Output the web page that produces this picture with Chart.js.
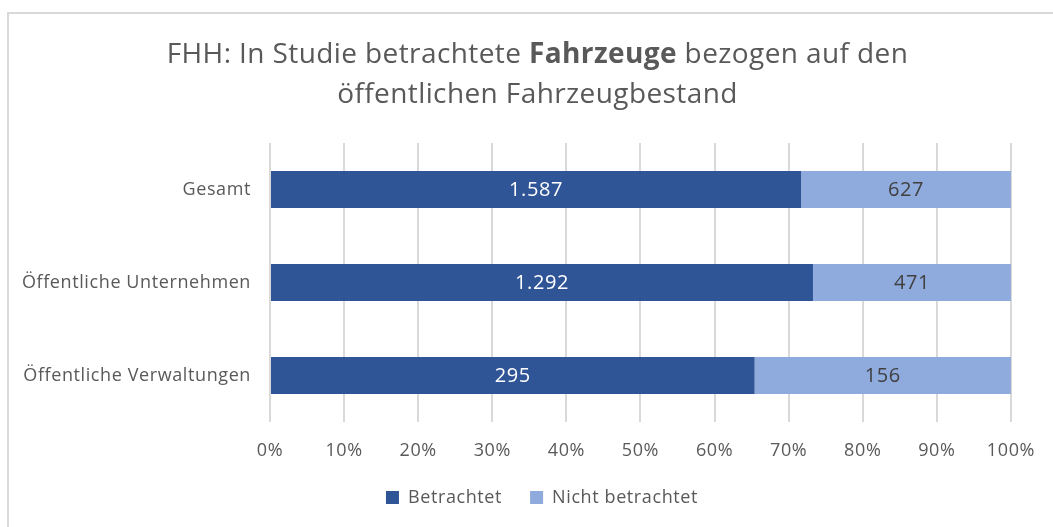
<!DOCTYPE html>
<html>
<head>
<meta charset="utf-8">
<script src="https://cdn.jsdelivr.net/npm/chart.js@4"></script>
<style>
  html, body { margin: 0; padding: 0; background: #fff; }
  #wrap { position: relative; width: 1053px; height: 527px; overflow: hidden; }
  #frame { position: absolute; left: 7px; top: 12px; width: 1100px; height: 600px; border: 2px solid #d9d9d9; box-sizing: border-box; }
  #title { position: absolute; left: 0; top: 32px; width: 1075px; text-align: center;
           font-family: "Open Sans", sans-serif; font-size: 28px; letter-spacing: 0.4px;
           line-height: 40px; color: #595959; }
  #title b { font-weight: 700; }
  canvas { position: absolute; left: 0; top: 0; }
</style>
</head>
<body>
<div id="wrap">
  <div id="frame"></div>
  <canvas id="chart" width="1053" height="527"></canvas>
  <div id="title">FHH: In Studie betrachtete <b>Fahrzeuge</b> bezogen auf den<br>öffentlichen Fahrzeugbestand</div>
</div>
<script>
// data
const categories = ['Gesamt', 'Öffentliche Unternehmen', 'Öffentliche Verwaltungen'];
const betrachtet = [1587, 1292, 295];
const nichtBetrachtet = [627, 471, 156];
const xTicks = ['0%', '10%', '20%', '30%', '40%', '50%', '60%', '70%', '80%', '90%', '100%'];

const totals = betrachtet.map((v, i) => v + nichtBetrachtet[i]);
const pct = arr => arr.map((v, i) => v / totals[i] * 100);

const textColor = '#595959';
const fontFamily = '"Open Sans", sans-serif';

// slightly wider text, like the original
const spacing = {
    id: 'spacing',
    beforeUpdate(chart) { chart.ctx.letterSpacing = '0.6px'; },
    beforeDraw(chart) { chart.ctx.letterSpacing = '0.6px'; },
    afterLayout(chart) { chart.legend.left += 72; }  // legend centred under the whole frame
};

// value labels in the middle of every segment
const valueLabels = {
    id: 'valueLabels',
    afterDatasetsDraw(chart) {
        const ctx = chart.ctx;
        ctx.save();
        ctx.font = '20px ' + fontFamily;
        ctx.textAlign = 'center';
        ctx.textBaseline = 'middle';
        chart.data.datasets.forEach((ds, di) => {
            const meta = chart.getDatasetMeta(di);
            meta.data.forEach((bar, i) => {
                const raw = ds.raw[i];
                const x = (bar.x + bar.base) / 2;
                ctx.fillStyle = ds.labelColor;
                ctx.fillText(raw.toLocaleString('de-DE'), x, bar.y + 1);
            });
        });
        ctx.restore();
    }
};

const ctx = document.getElementById('chart').getContext('2d');
new Chart(ctx, {
    type: 'bar',
    data: {
        labels: categories,
        datasets: [
            {
                label: 'Betrachtet',
                data: pct(betrachtet),
                raw: betrachtet,
                backgroundColor: '#2f5597',
                labelColor: '#ffffff'
            },
            {
                label: 'Nicht betrachtet',
                data: pct(nichtBetrachtet),
                raw: nichtBetrachtet,
                backgroundColor: '#8faadc',
                labelColor: '#404040'
            }
        ]
    },
    options: {
        indexAxis: 'y',
        responsive: false,
        animation: false,
        layout: { padding: { top: 143, right: 41, bottom: 10.5, left: 0 } },
        datasets: { bar: { barPercentage: 0.4, categoryPercentage: 1 } },
        scales: {
            x: {
                stacked: true,
                min: 0,
                max: 100,
                ticks: {
                    stepSize: 10,
                    color: textColor,
                    font: { family: fontFamily, size: 18 },
                    padding: 18,
                    callback: (v, i) => xTicks[i]
                },
                grid: { color: '#d9d9d9', lineWidth: 2, drawTicks: false },
                border: { display: false },
                afterFit(scale) { scale.height = 38.5; }
            },
            y: {
                stacked: true,
                ticks: {
                    color: textColor,
                    font: { family: fontFamily, size: 18 },
                    padding: 11
                },
                grid: { display: false },
                border: { display: false },
                afterFit(scale) { scale.width = 270; }
            }
        },
        plugins: {
            legend: {
                position: 'bottom',
                labels: {
                    color: textColor,
                    font: { family: fontFamily, size: 18 },
                    boxWidth: 13,
                    boxHeight: 13,
                    padding: 28
                }
            },
            tooltip: { enabled: false }
        }
    },
    plugins: [spacing, valueLabels]
});
</script>
</body>
</html>
